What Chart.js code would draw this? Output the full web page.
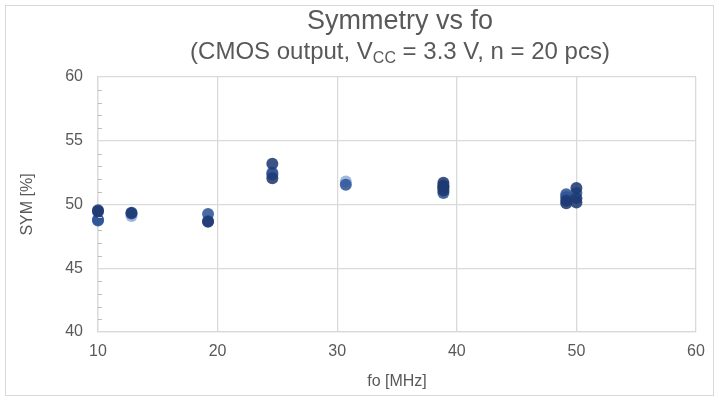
<!DOCTYPE html>
<html lang="en">
<head>
    <meta charset="UTF-8">
    <title>Symmetry vs fo</title>
    <script src="https://cdn.jsdelivr.net/npm/chart.js"></script>
    <style>
        body {
            margin: 0;
            background: white;
            font-family: "Liberation Sans", Arial, sans-serif;
        }
        #wrap {
            position: relative;
            width: 719px;
            height: 401px;
        }
        #frame {
            position: absolute;
            left: 5px;
            top: 5px;
            width: 707px;
            height: 389px;
            border: 1px solid #d9d9d9;
        }
        .ttl {
            position: absolute;
            left: 0;
            width: 800px;
            text-align: center;
            color: #595959;
            white-space: nowrap;
        }
        #title {
            top: 5px;
            font-size: 27px;
        }
        #subtitle {
            top: 37px;
            font-size: 24px;
        }
        #subtitle sub {
            font-size: 16px;
            vertical-align: -4px;
        }
        canvas {
            position: absolute;
            left: 0;
            top: 0;
        }
    </style>
</head>
<body>
<div id="wrap">
    <div id="frame"></div>
    <canvas id="symChart" width="719" height="401"></canvas>
    <div class="ttl" id="title">Symmetry vs fo</div>
    <div class="ttl" id="subtitle">(CMOS output, V<sub>CC</sub> = 3.3 V, n = 20 pcs)</div>
</div>
<script>
    // measured points, grouped by marker shade
    const darkX   = [10, 10, 12.8, 19.2, 24.576, 24.576, 38.88, 38.88, 38.88, 38.88, 49.152, 49.152, 50, 50, 50];
    const darkY   = [49.55, 49.45, 49.35, 48.65, 53.2, 52.05, 51.7, 51.5, 51.3, 51.1, 50.3, 50.1, 51.3, 50.5, 50.15];
    const mediumX = [10, 10, 12.8, 19.2, 19.2, 24.576, 24.576, 30.72, 38.88, 38.88, 49.152, 49.152, 50];
    const mediumY = [48.8, 48.75, 49.3, 49.25, 48.7, 52.5, 52.35, 51.55, 50.9, 51.4, 50.8, 50.55, 50.9];
    const lightX  = [12.8, 30.72, 49.152];
    const lightY  = [49.1, 51.8, 50.6];

    const xTicks = [10, 20, 30, 40, 50, 60];
    const yTicks = [40, 45, 50, 55, 60];

    function toPoints(xs, ys) {
        return xs.map((x, i) => ({ x: x, y: ys[i] }));
    }

    // short minor ticks drawn inside the plot along the y axis
    const minorTicks = {
        id: 'minorTicks',
        afterDraw(chart) {
            let ctx = chart.ctx;
            let y = chart.scales.y;
            let left = chart.chartArea.left;
            ctx.save();
            ctx.strokeStyle = '#bfbfbf';
            ctx.lineWidth = 1;
            for (let v = 41; v < 60; v++) {
                if (v % 5 === 0) continue;
                let py = Math.round(y.getPixelForValue(v)) + 0.5;
                ctx.beginPath();
                ctx.moveTo(left, py);
                ctx.lineTo(left + 4, py);
                ctx.stroke();
            }
            ctx.restore();
        }
    };

    const font = { family: '"Liberation Sans", Arial, sans-serif', size: 16 };

    new Chart(document.getElementById('symChart'), {
        type: 'scatter',
        data: {
            datasets: [
                { label: 'dark', data: toPoints(darkX, darkY), backgroundColor: 'rgba(31, 58, 115, 0.88)', clip: false },
                { label: 'medium', data: toPoints(mediumX, mediumY), backgroundColor: 'rgba(47, 85, 151, 0.88)', clip: false },
                { label: 'light', data: toPoints(lightX, lightY), backgroundColor: 'rgba(150, 175, 220, 0.9)', clip: false }
            ]
        },
        options: {
            responsive: false,
            animation: false,
            layout: { padding: { left: 0, right: 23, top: 77, bottom: 0 } },
            elements: { point: { radius: 6, borderWidth: 0, hoverRadius: 6 } },
            plugins: {
                legend: { display: false },
                tooltip: { enabled: false }
            },
            scales: {
                x: {
                    type: 'linear',
                    min: xTicks[0],
                    max: xTicks[xTicks.length - 1],
                    afterBuildTicks: s => { s.ticks = xTicks.map(v => ({ value: v })); },
                    afterFit: s => { s.height = 69; },
                    grid: { color: '#d9d9d9', lineWidth: 1.3, drawTicks: false },
                    border: { color: '#d9d9d9', width: 1.3 },
                    ticks: { color: '#595959', font: font, padding: 10 },
                    title: { display: true, text: 'fo [MHz]', color: '#595959', font: font, padding: { top: 0, bottom: 10 } }
                },
                y: {
                    type: 'linear',
                    min: yTicks[0],
                    max: yTicks[yTicks.length - 1],
                    afterBuildTicks: s => { s.ticks = yTicks.map(v => ({ value: v })); },
                    afterFit: s => { s.width = 98; },
                    grid: { color: '#d9d9d9', lineWidth: 1.3, drawTicks: false },
                    border: { color: '#d9d9d9', width: 1.3 },
                    ticks: { color: '#595959', font: font, padding: 15 },
                    title: { display: true, text: 'SYM [%]', color: '#595959', font: font, padding: { top: 18, bottom: 0 } }
                }
            }
        },
        plugins: [minorTicks]
    });
</script>
</body>
</html>
